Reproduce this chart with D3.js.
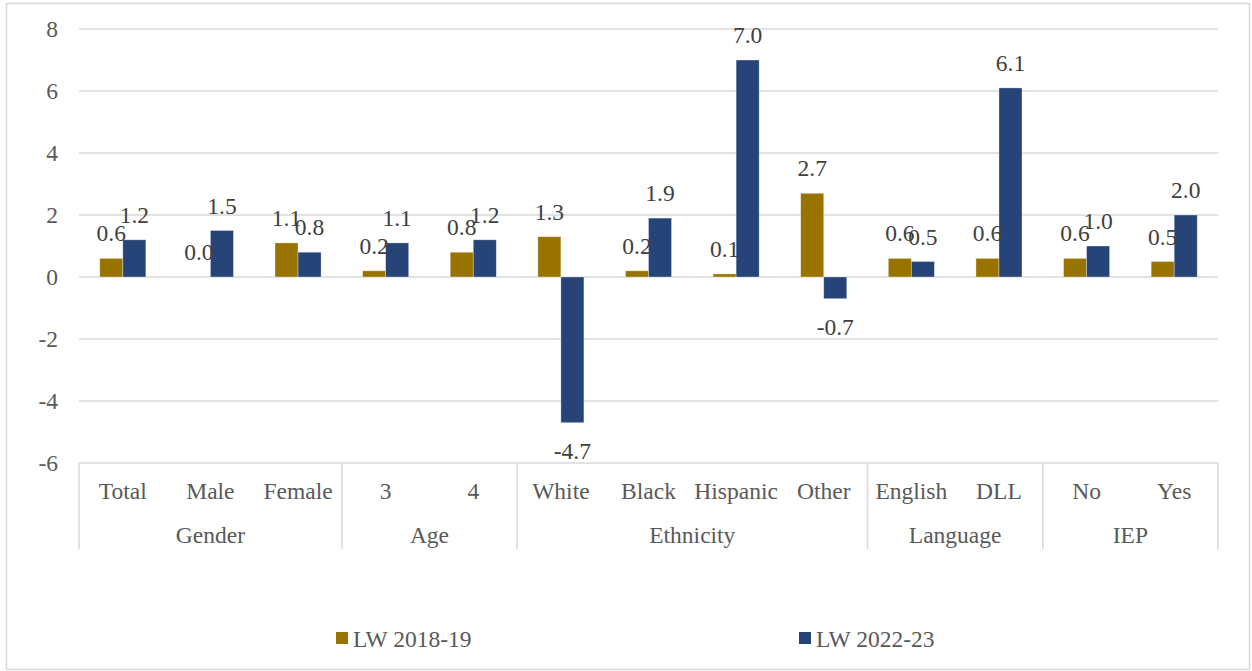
<!DOCTYPE html>
<html>
<head>
<meta charset="utf-8">
<script src="https://cdn.jsdelivr.net/npm/d3@7"></script>
<style>
  html, body { margin: 0; padding: 0; background: #fff; }
  svg { display: block; }
</style>
</head>
<body>
<svg id="chart" width="1252" height="671"></svg>
<script>
// Subgroups along the x axis and the group each one belongs to
const categories = ["Total", "Male", "Female", "3", "4", "White", "Black", "Hispanic", "Other", "English", "DLL", "No", "Yes"];
const groups = [
  { name: "Gender", members: ["Total", "Male", "Female"] },
  { name: "Age", members: ["3", "4"] },
  { name: "Ethnicity", members: ["White", "Black", "Hispanic", "Other"] },
  { name: "Language", members: ["English", "DLL"] },
  { name: "IEP", members: ["No", "Yes"] }
];
const seriesNames = ["LW 2018-19", "LW 2022-23"];
const lw2018 = [0.6, 0.0, 1.1, 0.2, 0.8, 1.3, 0.2, 0.1, 2.7, 0.6, 0.6, 0.6, 0.5];
const lw2022 = [1.2, 1.5, 0.8, 1.1, 1.2, -4.7, 1.9, 7.0, -0.7, 0.5, 6.1, 1.0, 2.0];
const yTicks = [-6, -4, -2, 0, 2, 4, 6, 8];
const colors = ["#997300", "#264478"];

(function () {
  const svg = d3.select("#chart");
  const plotLeft = 79, plotRight = 1218, plotTop = 29, plotBottom = 463;
  const fs = 23.5;
  const serif = '"Liberation Serif", "Times New Roman", serif';
  const textColor = "#595959";

  // Outer frame
  svg.append("rect")
    .attr("x", 6.5).attr("y", 3.5).attr("width", 1243).attr("height", 666)
    .attr("fill", "none").attr("stroke", "#d9d9d9").attr("stroke-width", 1.5);

  const y = d3.scaleLinear().domain([-6, 8]).range([plotBottom, plotTop]);
  const x0 = d3.scaleBand().domain(categories).range([plotLeft, plotRight]).padding(0);
  const step = x0.bandwidth();
  const x1 = d3.scaleBand().domain(seriesNames).range([step * 0.237, step * 0.763]).padding(0);

  // Horizontal gridlines
  svg.append("g").selectAll("line").data(yTicks).join("line")
    .attr("x1", plotLeft).attr("x2", plotRight)
    .attr("y1", d => y(d)).attr("y2", d => y(d))
    .attr("stroke", "#d9d9d9").attr("stroke-width", 1.5);

  // Y-axis labels
  svg.append("g").selectAll("text").data(yTicks).join("text")
    .attr("x", 58).attr("y", d => y(d) + 8)
    .attr("text-anchor", "end").attr("font-size", fs).attr("fill", textColor)
    .style("font-family", serif)
    .text(d => d);

  // Bars with value labels
  const rows = categories.map((c, i) => ({ cat: c, vals: [lw2018[i], lw2022[i]] }));
  const barG = svg.append("g");
  rows.forEach(r => {
    r.vals.forEach((v, s) => {
      const bx = x0(r.cat) + x1(seriesNames[s]);
      barG.append("rect")
        .attr("x", bx).attr("width", x1.bandwidth())
        .attr("y", y(Math.max(0, v)))
        .attr("height", Math.abs(y(v) - y(0)))
        .attr("fill", colors[s])
        .attr("stroke", "#ffffff").attr("stroke-opacity", 0.45).attr("stroke-width", 0.75);
    });
  });
  rows.forEach(r => {
    r.vals.forEach((v, s) => {
      const bx = x0(r.cat) + x1(seriesNames[s]);
      barG.append("text")
        .attr("x", bx + x1.bandwidth() / 2)
        .attr("y", v >= 0 ? y(v) - 17 : y(v) + 36)
        .attr("text-anchor", "middle").attr("font-size", fs)
        .attr("fill", "#404040")
        .style("font-family", serif)
        .text(v.toFixed(1));
    });
  });

  // Category axis: labels and group separators
  const axisTop = y(-6), axisBottom = 549;
  svg.append("g").selectAll("text").data(categories).join("text")
    .attr("x", d => x0(d) + step / 2).attr("y", 499)
    .attr("text-anchor", "middle").attr("font-size", fs).attr("fill", textColor)
    .style("font-family", serif)
    .text(d => d);

  const sepX = [plotLeft];
  groups.forEach(g => sepX.push(x0(g.members[g.members.length - 1]) + step));
  svg.append("g").selectAll("line").data(sepX).join("line")
    .attr("x1", d => d).attr("x2", d => d)
    .attr("y1", axisTop).attr("y2", axisBottom)
    .attr("stroke", "#d9d9d9").attr("stroke-width", 1.5);

  svg.append("g").selectAll("text").data(groups).join("text")
    .attr("x", g => (x0(g.members[0]) + x0(g.members[g.members.length - 1]) + step) / 2)
    .attr("y", 543)
    .attr("text-anchor", "middle").attr("font-size", fs).attr("fill", textColor)
    .style("font-family", serif)
    .text(g => g.name);

  // Legend
  const legendX = [336, 799];
  const lg = svg.append("g");
  seriesNames.forEach((n, i) => {
    lg.append("rect").attr("x", legendX[i]).attr("y", 632).attr("width", 12).attr("height", 12)
      .attr("fill", colors[i]);
    lg.append("text").attr("x", legendX[i] + 17).attr("y", 647)
      .attr("font-size", fs).attr("fill", textColor)
      .style("font-family", serif)
      .text(n);
  });
})();
</script>
</body>
</html>
